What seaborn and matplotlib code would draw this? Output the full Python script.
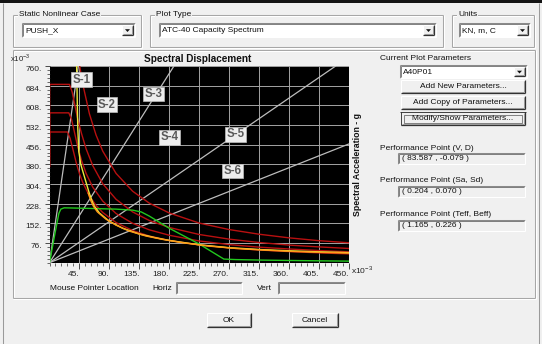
import numpy as np
import pandas as pd
import matplotlib
matplotlib.use("Agg")
import matplotlib.pyplot as plt
from matplotlib.patches import Rectangle, Polygon
from matplotlib.ticker import MultipleLocator
import seaborn as sns

sns.set_theme(style="white")
plt.rcParams['font.family'] = ['Liberation Sans', 'DejaVu Sans']

# ---------------- data (units x10^-3) ----------------
x_ticks = [45, 90, 135, 180, 225, 270, 315, 360, 405, 450]
y_ticks = [76, 152, 228, 304, 380, 456, 532, 608, 684, 760]

# capacity spectrum (green)
cap_sd = [0, 8, 14, 17, 22, 40, 70, 100, 125, 138, 150, 180, 225, 262, 280, 320, 380, 450]
cap_sa = [0, 110, 190, 207, 212, 211, 209, 207, 203, 196, 180, 133, 72, 14, 12, 10, 8, 6]

# demand spectra (red)
red_a_sd = [38, 45, 50, 60, 70, 80, 100, 125, 150, 180, 225, 270, 315, 360, 405, 450]
red_a_sa = [900, 765, 690, 575, 493, 431, 345, 276, 230, 192, 153, 128, 110, 96, 85, 77]
red_b_sd = [0, 0.3, 30, 34, 38, 42, 48, 55, 65, 80, 100, 125, 150, 180, 225, 270, 315, 360, 405, 450]
red_b_sa = [370, 689, 689, 660, 610, 560, 500, 440, 375, 305, 245, 196, 163, 136, 109, 91, 78, 68, 61, 55]
red_c_sd = [0, 0.3, 29, 33, 37, 42, 48, 55, 65, 80, 100, 125, 150, 180, 225, 270, 315, 360, 405, 450]
red_c_sa = [370, 579, 579, 555, 510, 452, 396, 345, 292, 238, 190, 152, 127, 106, 84, 70, 60, 53, 47, 42]
red_d_sd = [0, 0.3, 27, 31, 35, 40, 45, 50, 60, 70, 80, 100, 125, 150, 180, 225, 270, 315, 360, 405, 450]
red_d_sa = [370, 505, 505, 480, 440, 388, 344, 310, 258, 221, 194, 155, 124, 103, 86, 69, 57, 49, 43, 38, 34]

# single demand spectrum (yellow) and its companion (orange)
yel_sd = [40.5, 41.5, 42.5, 44, 47, 51, 55, 59, 63, 67, 75, 90, 110, 135, 160, 180, 225, 270, 315, 360, 405, 450]
yel_sa = [800, 650, 520, 430, 380, 345, 310, 275, 245, 220, 192, 160, 133, 111, 96, 86, 69, 58, 51, 46, 42, 39]
org_sd = [58, 62, 66, 72, 85, 100, 120, 145, 170, 200, 240, 280, 320, 360, 405, 450]
org_sa = [270, 240, 218, 196, 168, 145, 122, 103, 90, 77, 64, 55, 49, 44, 40, 37]

# constant period lines (gray), end points
period_end_sd = [43.4, 187, 430, 450]
period_end_sa = [760, 760, 760, 459]

# annotations
label_text = ['S-1', 'S-2', 'S-3', 'S-4', 'S-5', 'S-6']
label_sd = [48.6, 86.4, 156, 180, 279, 275]
label_sa = [707, 610, 652, 484, 496, 354]

# ---------------- figure / dialog ----------------
W, H = 542, 344
fig = plt.figure(figsize=(W / 100, H / 100), dpi=100)
BG = '#f0f0f0'
fig.patch.set_facecolor(BG)
FS = 6.0

ui = fig.add_axes([0, 0, 1, 1], zorder=0)
ui.set_xlim(0, W)
ui.set_ylim(H, 0)
ui.axis('off')


def rect(x0, y0, x1, y1, fc='none', ec='none', lw=0.7, z=1):
    ui.add_patch(Rectangle((x0, y0), x1 - x0, y1 - y0, fc=fc, ec=ec, lw=lw, zorder=z))


def hl(x0, x1, y, c, lw=0.75, z=2):
    ui.plot([x0, x1], [y, y], color=c, lw=lw, solid_capstyle='butt', zorder=z)


def vl(x, y0, y1, c, lw=0.75, z=2):
    ui.plot([x, x], [y0, y1], color=c, lw=lw, solid_capstyle='butt', zorder=z)


def groupbox(x0, y0, x1, y1, label=None):
    hl(x0, x1, y0, '#a6a6a6'); vl(x0, y0, y1, '#a6a6a6')
    hl(x0, x1, y1, '#a6a6a6'); vl(x1, y0, y1, '#a6a6a6')
    hl(x0 + 1, x1 - 1, y0 + 1, 'white'); vl(x0 + 1, y0 + 1, y1 - 1, 'white')
    hl(x0, x1 + 1, y1 + 1, 'white'); vl(x1 + 1, y0, y1 + 1, 'white')
    if label:
        ui.text(x0 + 6, y0, label, ha='left', va='center', fontsize=FS, color='#111',
                zorder=3, bbox=dict(fc=BG, ec='none', pad=0.6))


def sunken(x0, y0, x1, y1, fc='white'):
    rect(x0, y0, x1, y1, fc=fc)
    hl(x0, x1, y0, '#8a8a8a'); vl(x0, y0, y1, '#8a8a8a')
    hl(x0 + 1, x1 - 1, y0 + 1, '#505050', lw=0.5); vl(x0 + 1, y0 + 1, y1 - 1, '#505050', lw=0.5)
    hl(x0, x1, y1, 'white'); vl(x1, y0, y1, 'white')


def button(x0, y0, x1, y1, label=None, default=False):
    rect(x0, y0, x1, y1, fc=BG)
    hl(x0, x1, y0, 'white'); vl(x0, y0, y1, 'white')
    hl(x0, x1, y1, '#303030', lw=0.9); vl(x1, y0, y1, '#303030', lw=0.9)
    hl(x0 + 1, x1 - 1, y1 - 1, '#9a9a9a'); vl(x1 - 1, y0 + 1, y1 - 1, '#9a9a9a')
    if default:
        rect(x0 + 3, y0 + 2.5, x1 - 3, y1 - 2.5, ec='#555', lw=0.5, z=3)
        hl(x0 - 1, x1 + 1, y0 - 0.5, '#222', lw=0.6); vl(x0 - 0.5, y0, y1, '#222', lw=0.6)
    if label:
        ui.text((x0 + x1) / 2, (y0 + y1) / 2 + 0.5, label, ha='center', va='center',
                fontsize=FS, color='#111', zorder=4)


def combo(x0, y0, x1, y1, text):
    sunken(x0, y0, x1, y1)
    button(x1 - 13, y0 + 2, x1 - 2, y1 - 2)
    cx, cy = x1 - 7.5, (y0 + y1) / 2 + 0.5
    ui.add_patch(Polygon([[cx - 2.5, cy - 1.3], [cx + 2.5, cy - 1.3], [cx, cy + 1.5]],
                         closed=True, fc='#111', ec='none', zorder=5))
    ui.text(x0 + 3, (y0 + y1) / 2 + 0.5, text, ha='left', va='center', fontsize=FS,
            color='#111', zorder=4)


# dialog frame
rect(0, 0, W, 2.5, fc='#141414', z=5)
vl(3, 2.5, H, '#9a9a9a')
vl(539, 2.5, H, '#9a9a9a')

# top group boxes
groupbox(13, 15, 141, 47, 'Static Nonlinear Case')
combo(22, 23, 135, 37, 'PUSH_X')
groupbox(150, 15, 443, 47, 'Plot Type')
combo(159, 23, 436, 37, 'ATC-40 Capacity Spectrum')
groupbox(452, 15, 534, 47, 'Units')
combo(459, 23, 530, 37, 'KN, m, C')

# main group box
groupbox(13, 50, 535, 298)

# titles
ui.text(198, 59, 'Spectral Displacement', ha='center', va='center', fontsize=7.2,
        fontweight='bold', color='#111')
ui.text(10, 57.5, r'x10$^{\mathregular{-3}}$', ha='left', va='center', fontsize=5.6, color='#222')
ui.text(351, 270, r'x10$^{\mathregular{-3}}$', ha='left', va='center', fontsize=FS, color='#222')
ui.text(358, 165, 'Spectral Acceleration - g', ha='center', va='center', rotation=90,
        fontsize=6.3, fontweight='bold', color='#111')

# right panel
ui.text(380, 58, 'Current Plot Parameters', ha='left', va='center', fontsize=FS, color='#111')
combo(400, 65, 527, 78, 'A40P01')
button(401, 80, 525, 93, 'Add New Parameters...')
button(401, 96, 525, 109, 'Add Copy of Parameters...')
button(401, 112, 525, 125, 'Modify/Show Parameters...', default=True)

perf = [('Performance Point (V, D)', '( 83.587 , -0.079 )', 148),
        ('Performance Point (Sa, Sd)', '( 0.204 , 0.070 )', 181),
        ('Performance Point (Teff, Beff)', '( 1.165 , 0.226 )', 215)]
for lab, val, yy in perf:
    ui.text(380, yy, lab, ha='left', va='center', fontsize=FS, color='#111')
    sunken(398, yy + 4.5, 525, yy + 15.5, fc=BG)
    ui.text(402, yy + 10.2, val, ha='left', va='center', fontsize=FS, color='#111', zorder=4)

# mouse pointer row
ui.text(50, 288, 'Mouse Pointer Location', ha='left', va='center', fontsize=FS, color='#111')
ui.text(152, 288, 'Horiz', ha='left', va='center', fontsize=FS, color='#111')
sunken(176, 282, 242, 294, fc=BG)
ui.text(257, 288, 'Vert', ha='left', va='center', fontsize=FS, color='#111')
sunken(278, 282, 345, 294, fc=BG)

# OK / Cancel
button(207, 313, 251, 327, 'OK')
button(292, 313, 338, 327, 'Cancel')

# ---------------- plot ----------------
L, T, R, B = 49.5, 66, 349, 262.7
ax = fig.add_axes([L / W, 1 - B / H, (R - L) / W, (B - T) / H], zorder=2)
ax.set_facecolor('black')

# period lines
prow = []
for i, (ex, ey) in enumerate(zip(period_end_sd, period_end_sa)):
    prow += [(i, 0.0, 0.0), (i, ex, ey)]
pdf = pd.DataFrame(prow, columns=['line', 'sd', 'sa'])
sns.lineplot(data=pdf, x='sd', y='sa', units='line', estimator=None, sort=False,
             color='#bdbdbd', lw=0.9, ax=ax, legend=False)


def curve(xs, ys, color, lw):
    d = pd.DataFrame({'sd': xs, 'sa': ys})
    sns.lineplot(data=d, x='sd', y='sa', sort=False, estimator=None, color=color,
                 lw=lw, ax=ax, legend=False)


curve(red_a_sd, red_a_sa, '#b81010', 1.0)
curve(red_b_sd, red_b_sa, '#b81010', 1.0)
curve(red_c_sd, red_c_sa, '#b81010', 1.0)
curve(red_d_sd, red_d_sa, '#b81010', 1.0)
curve(cap_sd, cap_sa, '#22c81e', 1.0)
curve(yel_sd, yel_sa, '#ecec3a', 1.0)
curve(org_sd, org_sa, '#ff9818', 1.0)

for t, sx, sy in zip(label_text, label_sd, label_sa):
    ax.text(sx, sy, t, ha='center', va='center', fontsize=8.3, fontweight='bold',
            color='#5a5a5a', zorder=6,
            bbox=dict(boxstyle='square,pad=0.12', fc='#ededed', ec='#bdbdbd', lw=0.5))

ax.set_xlim(0, 450)
ax.set_ylim(0, 760)
ax.set_xticks(x_ticks)
ax.set_xticklabels([f'{v}.' for v in x_ticks])
ax.set_yticks(y_ticks)
ax.set_yticklabels([f'{v}.' for v in y_ticks])
ax.xaxis.set_minor_locator(MultipleLocator(9))
ax.yaxis.set_minor_locator(MultipleLocator(15.2))
ax.grid(True, which='major', color='#a4a4a4', lw=0.7)
ax.grid(False, which='minor')
ax.set_axisbelow(True)
ax.tick_params(axis='both', which='both', direction='out', colors='#303030',
               labelsize=FS, labelcolor='#222')
ax.tick_params(axis='x', which='major', bottom=True, length=4.5, width=0.6, pad=1.5)
ax.tick_params(axis='x', which='minor', bottom=True, length=2.2, width=0.5)
ax.tick_params(axis='y', which='major', left=True, length=3.5, width=0.6, pad=2.0)
ax.tick_params(axis='y', which='minor', left=True, length=2.0, width=0.5)
for lab in ax.get_xticklabels():
    lab.set_ha('right')
for lab in ax.get_yticklabels():
    lab.set_va('top')
ax.set_xlabel('')
ax.set_ylabel('')
for s in ax.spines.values():
    s.set_visible(False)

fig.savefig('out.png', dpi=100, facecolor=fig.get_facecolor())
